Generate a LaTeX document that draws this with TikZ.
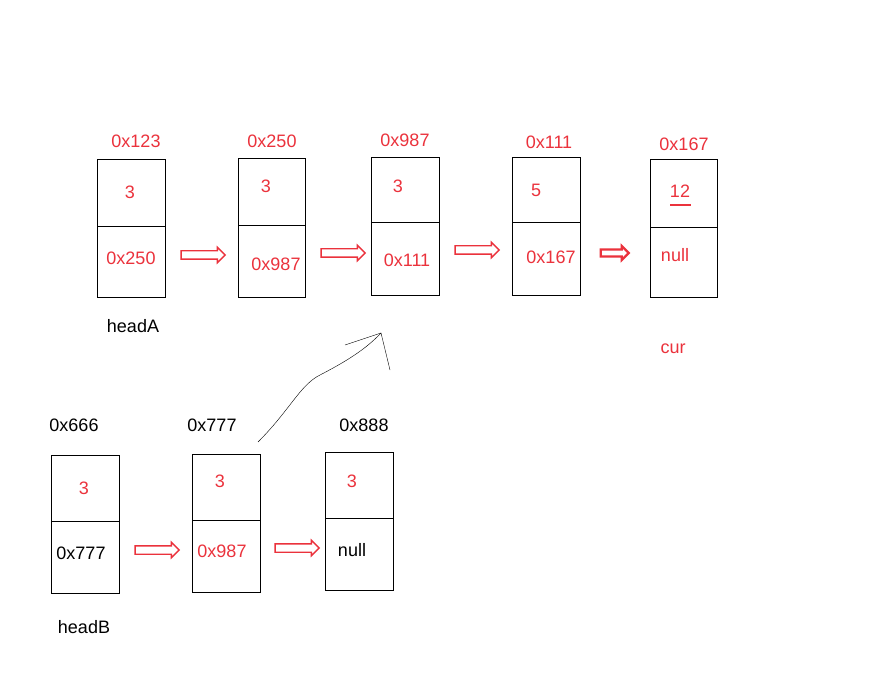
\documentclass[tikz,border=0pt]{standalone}
\usepackage{fontspec}
\setmainfont{Liberation Sans}
\usetikzlibrary{shapes.arrows}
\definecolor{rd}{RGB}{235,50,60}
\begin{document}
\begin{tikzpicture}[x=1pt,y=-1pt,
  box/.style={draw=black,thick},
  rt/.style={text=rd,font=\fontsize{18}{21}\selectfont},
  bt/.style={text=black,font=\fontsize{18}{21}\selectfont},
  arr/.style={single arrow,draw=rd,line width=1.4pt,fill=white,minimum height=44pt,minimum width=15pt,single arrow head extend=3.5pt,inner xsep=0pt,inner ysep=3.5pt}]
\useasboundingbox (0,0) rectangle (894,676);
\fill[white] (0,0) rectangle (894,676);
\foreach \n/\xa/\xb/\ya/\ym/\yb in {a/97/165/159/226/297,b/238/305/158/225/297,c/371/439/157/222/295,d/512/580/157/222/295,e/650/717/159/227/297,f/51/119/455/521/593,g/192/260/454/520/592,h/325/393/452/518/590}{
  \draw[box] (\xa,\ya) rectangle (\xb,\yb);
  \draw[box] (\xa,\ym) -- (\xb,\ym);
}
\node[rt] (la) at (136,141) {0x123};
\node[rt] (lb) at (272,141) {0x250};
\node[rt] (lc) at (405,140) {0x987};
\node[rt] (ld) at (549,142) {0x111};
\node[rt] (le) at (684,144) {0x167};
\node[rt] (va) at (130,192) {3};
\node[rt] (vb) at (266,186) {3};
\node[rt] (vc) at (398,186) {3};
\node[rt] (vd) at (536,190) {5};
\node[rt] (ve) at (680,191) {12};
\draw[rd,line width=1.3pt] (670,205) -- (691,205);
\node[rt] (pa) at (131,258) {0x250};
\node[rt] (pb) at (276,264) {0x987};
\node[rt] (pc) at (407,260) {0x111};
\node[rt] (pd) at (551,257) {0x167};
\node[rt] (pe) at (675,255) {null};
\node[bt] (ha) at (133,326) {headA};
\node[rt] (cu) at (673,349) {cur};
\node[arr] (a1) at (201,255) {};
\node[arr] (a2) at (341,253) {};
\node[arr] (a3) at (475,250) {};
\node[single arrow,draw=rd,line width=2.2pt,fill=white,minimum height=28pt,minimum width=14pt,single arrow head extend=3pt,inner xsep=0pt,inner ysep=2pt] (a4) at (613,253) {};
\node[bt] (lf) at (74,425) {0x666};
\node[bt] (lg) at (212,425) {0x777};
\node[bt] (lh) at (364,425) {0x888};
\node[rt] (vf) at (84,488) {3};
\node[rt] (vg) at (220,481) {3};
\node[rt] (vh) at (352,481) {3};
\node[bt] (pf) at (81,553) {0x777};
\node[rt] (pg) at (222,551) {0x987};
\node[bt] (ph) at (352,550) {null};
\node[bt] (hb) at (84,627) {headB};
\node[arr] (a5) at (155,550) {};
\node[arr] (a6) at (295,548) {};
\coordinate (s) at (258,442);
\coordinate (t) at (381,333);
\draw[black,thin] (s) .. controls (290,410) and (300,385) .. (320,375) .. controls (345,362) and (365,350) .. (t);
\draw[black,thin] (345,345) -- (t) -- (390,370);
\end{tikzpicture}
\end{document}
